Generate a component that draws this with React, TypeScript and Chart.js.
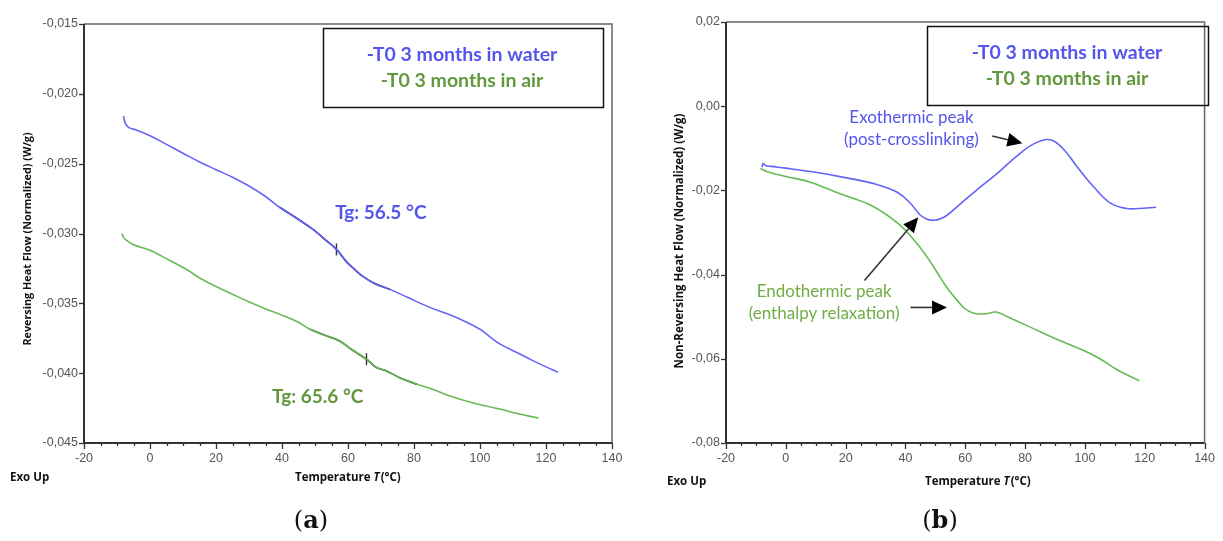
import React, { useEffect, useRef } from "react";
import { Chart, registerables } from "chart.js";
Chart.register(...registerables);

const W = 1223;
const H = 541;

// ---------- Panel (a): Reversing heat flow ----------
const waterRevT = [-8, -7.5, -6.5, -4, 0, 5, 10, 15.2, 20, 25, 30, 35, 39.4, 45.5, 49.4, 53, 56.5, 59.7, 62, 64.5, 68, 72.7, 78, 84.8, 92, 100, 103, 106, 111, 116, 120, 123.6];
const waterRevV = [-0.0216, -0.0221, -0.0224, -0.0226, -0.0230, -0.02362, -0.02425, -0.0249, -0.02543, -0.02597, -0.0266, -0.02735, -0.02814, -0.02907, -0.02971, -0.03043, -0.03114, -0.03207, -0.03257, -0.03307, -0.03357, -0.034, -0.03457, -0.03529, -0.03593, -0.03686, -0.0374, -0.0379, -0.0385, -0.0391, -0.03955, -0.03993];
const airRevT = [-8.5, -8, -7.2, -5, 0, 5, 11.2, 15.2, 20, 25, 30.3, 35, 39.4, 45, 48.5, 53, 57.6, 61, 65.6, 68.5, 71.8, 76, 80.9, 85, 90.9, 98, 106, 112, 117.7];
const airRevV = [-0.0300, -0.0303, -0.03048, -0.0308, -0.0312, -0.0318, -0.0326, -0.0332, -0.0338, -0.03435, -0.03493, -0.0354, -0.03579, -0.03636, -0.03686, -0.03729, -0.03771, -0.03829, -0.039, -0.03957, -0.03986, -0.04036, -0.04079, -0.0411, -0.04164, -0.04214, -0.04257, -0.04293, -0.04321];
const tgWaterT = 56.5;
const tgWaterV = -0.03114;
const tgAirT = 65.6;
const tgAirV = -0.039;
const yTicksA = [-0.045, -0.04, -0.035, -0.03, -0.025, -0.02, -0.015];

// ---------- Panel (b): Non-reversing heat flow ----------
const waterNonRevT = [-8, -7.6, -6.8, -5, 0, 10, 19.4, 30, 37.4, 41.7, 45, 47.5, 49.6, 51.5, 53.9, 60, 65, 70.3, 76.8, 82, 87.7, 92.3, 97.5, 103.1, 108.7, 114, 118, 123.8];
const waterNonRevV = [-0.0145, -0.0136, -0.0141, -0.0143, -0.0147, -0.0157, -0.0169, -0.0185, -0.0205, -0.0231, -0.0259, -0.0269, -0.0271, -0.0268, -0.0259, -0.0222, -0.0192, -0.0162, -0.0121, -0.0093, -0.0079, -0.0098, -0.0145, -0.0193, -0.0231, -0.0243, -0.0243, -0.0240];
const airNonRevT = [-8.5, -5.6, 0, 8.5, 17.7, 28.6, 37.4, 43, 47.3, 50.6, 53.9, 59.4, 61.5, 63.7, 67, 70.3, 75, 82.1, 90, 99.8, 105, 110.7, 114, 118.2];
const airNonRevV = [-0.0148, -0.0157, -0.0167, -0.0181, -0.0207, -0.0236, -0.0278, -0.0319, -0.0359, -0.0395, -0.0431, -0.0478, -0.0488, -0.0493, -0.0493, -0.0489, -0.0503, -0.0526, -0.0552, -0.0581, -0.0600, -0.0626, -0.0638, -0.0652];
const yTicksB = [-0.08, -0.06, -0.04, -0.02, 0, 0.02];

const xTicks = [-20, 0, 20, 40, 60, 80, 100, 120, 140];
const xMinorStep = 5;

const legendLabels = ["-T0 3 months in water", "-T0 3 months in air"];

const BLUE_LINE = "#6464fa";
const GREEN_LINE = "#66bb55";
const BLUE_TEXT = "#5555ee";
const GREEN_TEXT = "#62993e";
const GREEN_LIGHT_TEXT = "#70ad47";

const pts = (t: number[], v: number[]) => t.map((x, i) => ({ x, y: v[i] }));
const ptsIn = (t: number[], v: number[], a: number, b: number) =>
  t.map((x, i) => ({ x, y: v[i] })).filter((p) => p.x >= a && p.x <= b);

function drawArrow(ctx: CanvasRenderingContext2D, x1: number, y1: number, x2: number, y2: number) {
  const ang = Math.atan2(y2 - y1, x2 - x1);
  const L = 15;
  const hw = 7;
  const bx = x2 - L * Math.cos(ang);
  const by = y2 - L * Math.sin(ang);
  ctx.save();
  ctx.strokeStyle = "#333";
  ctx.lineWidth = 1.6;
  ctx.beginPath();
  ctx.moveTo(x1, y1);
  ctx.lineTo(bx, by);
  ctx.stroke();
  ctx.fillStyle = "#000";
  ctx.beginPath();
  ctx.moveTo(x2, y2);
  ctx.lineTo(bx + hw * Math.sin(ang), by - hw * Math.cos(ang));
  ctx.lineTo(bx - hw * Math.sin(ang), by + hw * Math.cos(ang));
  ctx.closePath();
  ctx.fill();
  ctx.restore();
}

function drawTempTitle(ctx: CanvasRenderingContext2D, x: number, y: number) {
  ctx.save();
  ctx.fillStyle = "#111";
  ctx.textBaseline = "middle";
  ctx.textAlign = "left";
  ctx.font = 'bold 11.5px "Open Sans"';
  ctx.fillText("Temperature ", x, y);
  let cx = x + ctx.measureText("Temperature ").width;
  ctx.font = 'italic bold 11.5px "Open Sans"';
  ctx.fillText("T", cx, y);
  cx += ctx.measureText("T").width + 1;
  ctx.font = 'bold 11.5px "Open Sans"';
  ctx.fillText("(°C)", cx, y);
  ctx.restore();
}

function drawCaption(ctx: CanvasRenderingContext2D, letter: string, cx: number, y: number) {
  ctx.save();
  ctx.fillStyle = "#111";
  ctx.textBaseline = "middle";
  ctx.textAlign = "left";
  const fr = '24px "DejaVu Serif"';
  const fb = 'bold 24px "DejaVu Serif"';
  ctx.font = fr;
  const w1 = ctx.measureText("(").width;
  const w3 = ctx.measureText(")").width;
  ctx.font = fb;
  const w2 = ctx.measureText(letter).width;
  let x = cx - (w1 + w2 + w3) / 2;
  ctx.font = fr;
  ctx.fillText("(", x, y);
  x += w1;
  ctx.font = fb;
  ctx.fillText(letter, x, y);
  x += w2;
  ctx.font = fr;
  ctx.fillText(")", x, y);
  ctx.restore();
}

function drawFrameAndTicks(chart: any, yTicks: number[]) {
  const ctx: CanvasRenderingContext2D = chart.ctx;
  const { left, right, top, bottom } = chart.chartArea;
  const xs = chart.scales.x;
  const ys = chart.scales.y;
  ctx.save();
  ctx.strokeStyle = "#666";
  ctx.lineWidth = 1.5;
  ctx.beginPath();
  ctx.moveTo(left, top);
  ctx.lineTo(right, top);
  ctx.lineTo(right, bottom);
  ctx.stroke();
  ctx.strokeStyle = "#333";
  ctx.lineWidth = 2;
  ctx.beginPath();
  ctx.moveTo(left, top);
  ctx.lineTo(left, bottom);
  ctx.lineTo(right, bottom);
  ctx.stroke();
  ctx.lineWidth = 1.3;
  for (let v = xTicks[0]; v <= xTicks[xTicks.length - 1] + 1e-9; v += xMinorStep) {
    const px = Math.round(xs.getPixelForValue(v)) + 0.5;
    const major = xTicks.indexOf(v) >= 0;
    ctx.beginPath();
    ctx.moveTo(px, bottom);
    ctx.lineTo(px, bottom + (major ? 6 : 3));
    ctx.stroke();
  }
  for (const v of yTicks) {
    const py = Math.round(ys.getPixelForValue(v)) + 0.5;
    ctx.beginPath();
    ctx.moveTo(left - 5, py);
    ctx.lineTo(left, py);
    ctx.stroke();
  }
  ctx.restore();
}

function drawLegendBox(ctx: CanvasRenderingContext2D, x: number, y: number, w: number, h: number, cx: number, y1: number, y2: number) {
  ctx.save();
  ctx.strokeStyle = "#111";
  ctx.lineWidth = 1.5;
  ctx.strokeRect(x, y, w, h);
  ctx.font = 'bold 19.5px Lato';
  ctx.textAlign = "center";
  ctx.textBaseline = "middle";
  ctx.fillStyle = BLUE_TEXT;
  ctx.fillText(legendLabels[0], cx, y1);
  ctx.fillStyle = GREEN_TEXT;
  ctx.fillText(legendLabels[1], cx, y2);
  ctx.restore();
}

function yTitle(ctx: CanvasRenderingContext2D, text: string, x: number, y: number, size: number) {
  ctx.save();
  ctx.translate(x, y);
  ctx.rotate(-Math.PI / 2);
  ctx.font = 'bold ' + size + 'px "Open Sans"';
  ctx.fillStyle = "#111";
  ctx.textAlign = "center";
  ctx.textBaseline = "middle";
  ctx.fillText(text, 0, 0);
  ctx.restore();
}

function exoUp(ctx: CanvasRenderingContext2D, x: number, y: number) {
  ctx.save();
  ctx.font = 'bold 11.5px "Open Sans"';
  ctx.fillStyle = "#111";
  ctx.textAlign = "left";
  ctx.textBaseline = "middle";
  ctx.fillText("Exo Up", x, y);
  ctx.restore();
}

const tickFont = { family: '"Liberation Sans", Arial', size: 12.5 };

function scalesFor(yMin: number, yMax: number, yTicks: number[], dec: number, yWidth: number) {
  return {
    x: {
      type: "linear" as const,
      min: -20,
      max: 140,
      afterBuildTicks: (s: any) => {
        s.ticks = xTicks.map((v) => ({ value: v }));
      },
      afterFit: (s: any) => {
        s.height = 40;
      },
      ticks: { color: "#555", font: tickFont, padding: 8, maxRotation: 0, autoSkip: false },
      grid: { display: false, drawTicks: false },
      border: { display: false },
    },
    y: {
      type: "linear" as const,
      min: yMin,
      max: yMax,
      afterBuildTicks: (s: any) => {
        s.ticks = yTicks.map((v) => ({ value: v }));
      },
      afterFit: (s: any) => {
        s.width = yWidth;
      },
      ticks: {
        color: "#555",
        font: tickFont,
        padding: 6,
        autoSkip: false,
        callback: (v: any) => Number(v).toFixed(dec).replace(".", ","),
      },
      grid: { display: false, drawTicks: false },
      border: { display: false },
    },
  };
}

const lineDs = (label: string, data: any[], color: string, width = 1.6) => ({
  label,
  data,
  borderColor: color,
  backgroundColor: color,
  borderWidth: width,
  pointRadius: 0,
  fill: false,
  tension: 0.4,
  showLine: true,
});

function configA(): any {
  return {
    type: "line",
    data: {
      datasets: [
        lineDs(legendLabels[0], pts(waterRevT, waterRevV), BLUE_LINE),
        lineDs(legendLabels[1], pts(airRevT, airRevV), GREEN_LINE),
        lineDs("Tg fit water", ptsIn(waterRevT, waterRevV, 39, 73), "#23234d", 1.7),
        lineDs("Tg fit air", ptsIn(airRevT, airRevV, 48, 81), "#1f2f1f", 1.7),
        {
          label: "Tg marks",
          data: [
            { x: tgWaterT, y: tgWaterV },
            { x: tgAirT, y: tgAirV },
          ],
          showLine: false,
          pointStyle: "line",
          rotation: 90,
          pointRadius: 6,
          borderColor: "#333",
          borderWidth: 1.4,
        },
      ],
    },
    options: {
      responsive: false,
      animation: false,
      events: [],
      layout: { padding: { left: 0, right: W - 612, top: 24, bottom: H - 443 - 40 } },
      scales: scalesFor(-0.045, -0.015, yTicksA, 3, 84),
      plugins: { legend: { display: false }, tooltip: { enabled: false } },
    },
    plugins: [
      {
        id: "decorA",
        afterDraw(chart: any) {
          const ctx: CanvasRenderingContext2D = chart.ctx;
          const xs = chart.scales.x;
          const ys = chart.scales.y;
          drawFrameAndTicks(chart, yTicksA);
          yTitle(ctx, "Reversing Heat Flow (Normalized) (W/g)", 28, 239, 10.8);
          exoUp(ctx, 10, 478);
          drawTempTitle(ctx, 295, 478);
          drawCaption(ctx, "a", 311, 522);
          drawLegendBox(ctx, 323.5, 28.5, 280, 79, 462, 55, 81);
          ctx.save();
          ctx.font = 'bold 19px Lato';
          ctx.textAlign = "left";
          ctx.textBaseline = "middle";
          ctx.fillStyle = BLUE_TEXT;
          ctx.fillText("Tg: " + String(tgWaterT) + " °C", xs.getPixelForValue(56.1), ys.getPixelForValue(-0.0285));
          ctx.fillStyle = GREEN_TEXT;
          ctx.fillText("Tg: " + String(tgAirT) + " °C", xs.getPixelForValue(37), ys.getPixelForValue(-0.0417));
          ctx.restore();
        },
      },
    ],
  };
}

function configB(): any {
  return {
    type: "line",
    data: {
      datasets: [
        lineDs(legendLabels[0], pts(waterNonRevT, waterNonRevV), BLUE_LINE),
        lineDs(legendLabels[1], pts(airNonRevT, airNonRevV), GREEN_LINE),
      ],
    },
    options: {
      responsive: false,
      animation: false,
      events: [],
      layout: { padding: { left: 620, right: W - 1213, top: 22, bottom: H - 443 - 40 } },
      scales: scalesFor(-0.08, 0.02, yTicksB, 2, 106),
      plugins: { legend: { display: false }, tooltip: { enabled: false } },
    },
    plugins: [
      {
        id: "decorB",
        afterDraw(chart: any) {
          const ctx: CanvasRenderingContext2D = chart.ctx;
          const xs = chart.scales.x;
          const ys = chart.scales.y;
          const px = (t: number) => xs.getPixelForValue(t);
          const py = (v: number) => ys.getPixelForValue(v);
          drawFrameAndTicks(chart, yTicksB);
          yTitle(ctx, "Non-Reversing Heat Flow (Normalized) (W/g)", 680, 241, 11.5);
          exoUp(ctx, 667, 482);
          drawTempTitle(ctx, 925, 482);
          drawCaption(ctx, "b", 940, 522);
          drawLegendBox(ctx, 927.5, 26.5, 281, 79, 1067, 53, 79);
          ctx.save();
          ctx.font = '17px Lato';
          ctx.textAlign = "center";
          ctx.textBaseline = "middle";
          ctx.fillStyle = BLUE_TEXT;
          ctx.fillText("Exothermic peak", px(42), py(-0.0026));
          ctx.fillText("(post-crosslinking)", px(42), py(-0.0079));
          ctx.fillStyle = GREEN_LIGHT_TEXT;
          ctx.fillText("Endothermic peak", px(12.8), py(-0.044));
          ctx.fillText("(enthalpy relaxation)", px(12.8), py(-0.0493));
          ctx.restore();
          drawArrow(ctx, px(69), py(-0.0071), px(79.1), py(-0.0088));
          drawArrow(ctx, px(26.3), py(-0.0414), px(44.3), py(-0.0264));
          drawArrow(ctx, px(41.7), py(-0.0478), px(53.9), py(-0.0478));
        },
      },
    ],
  };
}

export default function App() {
  const refA = useRef<HTMLCanvasElement>(null);
  const refB = useRef<HTMLCanvasElement>(null);
  useEffect(() => {
    const a = new Chart(refA.current as HTMLCanvasElement, configA());
    const b = new Chart(refB.current as HTMLCanvasElement, configB());
    return () => {
      a.destroy();
      b.destroy();
    };
  }, []);
  const cs: React.CSSProperties = { position: "absolute", left: 0, top: 0, width: W, height: H };
  return (
    <div style={{ position: "fixed", left: 0, top: 0, width: W, height: H, background: "#fff" }}>
      <canvas ref={refA} width={W} height={H} style={cs} />
      <canvas ref={refB} width={W} height={H} style={cs} />
    </div>
  );
}
